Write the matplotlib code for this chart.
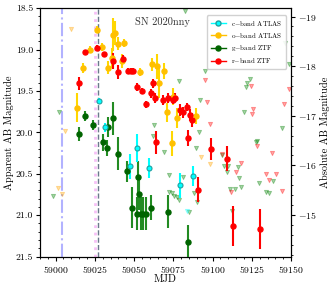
import matplotlib
matplotlib.use('Agg')
import matplotlib.pyplot as plt
from matplotlib.lines import Line2D
from matplotlib.ticker import AutoMinorLocator, MultipleLocator
import numpy as np

plt.rcParams['font.family'] = 'serif'
plt.rcParams['font.serif'] = ['cmr10']
plt.rcParams['mathtext.fontset'] = 'cm'
plt.rcParams['axes.formatter.use_mathtext'] = True

# detections: MJD, apparent mag, error
r_mjd = [59014.9, 59018.7, 59026.3, 59030.8, 59036.5, 59039.7, 59042.9, 59046.1, 59048.0, 59049.3,
         59051.8, 59055.0, 59057.6, 59061.0, 59062.0, 59063.3, 59063.9, 59068.4, 59071.6, 59074.8,
         59076.0, 59079.2, 59081.1, 59083.7, 59085.6, 59086.9, 59084.3, 59090.7, 59099.0, 59109.2,
         59113.0, 59130.2]
r_mag = [19.41, 19.03, 18.98, 19.06, 19.14, 19.27, 19.11, 19.26, 19.26, 19.26,
         19.45, 19.50, 19.66, 19.53, 19.41, 19.58, 20.12, 19.61, 19.58, 19.61,
         19.58, 19.73, 19.76, 19.69, 19.79, 19.85, 20.07, 20.69, 20.20, 20.32,
         21.13, 21.17]
r_err = [0.08, 0.03, 0.03, 0.03, 0.10, 0.08, 0.04, 0.04, 0.04, 0.04,
         0.05, 0.04, 0.04, 0.05, 0.05, 0.06, 0.14, 0.06, 0.06, 0.05,
         0.05, 0.07, 0.07, 0.05, 0.07, 0.08, 0.10, 0.15, 0.13, 0.15,
         0.24, 0.24]

o_mjd = [59013.6, 59017.4, 59021.9, 59026.3, 59029.5, 59033.3, 59035.9, 59036.5, 59037.8, 59039.7,
         59042.0, 59043.5, 59053.7, 59061.4, 59064.6, 59065.8, 59069.0, 59071.0, 59074.8, 59077.3,
         59074.1, 59089.4]
o_mag = [19.70, 19.22, 19.00, 18.76, 18.97, 19.22, 19.10, 18.82, 18.80, 18.93,
         19.14, 18.92, 19.27, 19.18, 19.20, 19.40, 19.26, 19.76, 19.57, 19.83,
         20.13, 19.80]
o_err = [0.17, 0.06, 0.04, 0.04, 0.05, 0.08, 0.12, 0.20, 0.15, 0.08,
         0.08, 0.05, 0.05, 0.08, 0.15, 0.18, 0.10, 0.12, 0.10, 0.12,
         0.15, 0.10]

c_mjd = [59027.6, 59031.4, 59047.4, 59051.8, 59059.5, 59079.2, 59087.5]
c_mag = [19.62, 19.94, 20.41, 20.19, 20.43, 20.64, 20.53]
c_err = [0.03, 0.05, 0.15, 0.17, 0.12, 0.15, 0.12]

g_mjd = [59014.9, 59018.7, 59023.8, 59030.2, 59032.7, 59033.3, 59036.5, 59039.7, 59045.5, 59048.6,
         59051.8, 59052.5, 59053.1, 59054.4, 59055.6, 59057.6, 59060.7, 59071.6, 59084.3]
g_mag = [20.02, 19.80, 19.91, 20.12, 20.19, 19.94, 19.83, 20.26, 20.47, 20.91,
         20.98, 20.54, 20.74, 20.98, 20.98, 20.98, 20.91, 20.96, 21.32]
g_err = [0.08, 0.06, 0.06, 0.10, 0.10, 0.12, 0.20, 0.20, 0.13, 0.25,
         0.20, 0.20, 0.20, 0.20, 0.20, 0.20, 0.15, 0.20, 0.20]

# upper limits
gl_mjd = [59002.1, 58998.3, 59082.4, 59095.2, 59078.6, 59123.8, 59121.9, 59121.3, 59092.0, 59120.0,
          59146.2, 59148.7, 59144.2, 59128.3, 59091.3, 59106.0, 59107.3, 59109.8, 59109.2, 59116.2,
          59116.8, 59111.1, 59114.3, 59118.1, 59129.6, 59138.5, 59134.0, 59136.0, 59112.4, 59127.7,
          59072.2, 59072.2, 59074.1, 59075.4, 59077.3, 59078.6, 59081.1, 59085.0, 59090.1, 59069.0,
          59089.4, 59088.2, 59062.0, 59062.7]
gl_mag = [19.75, 20.77, 18.53, 19.26, 19.38, 19.35, 19.40, 19.45, 19.61, 19.75,
          18.92, 19.17, 19.95, 20.10, 19.99, 20.27, 20.40, 20.40, 20.48, 20.42,
          20.55, 20.68, 20.68, 20.66, 20.61, 20.59, 20.72, 20.73, 20.95, 20.12,
          20.51, 20.72, 20.73, 20.77, 20.78, 20.82, 20.54, 20.96, 20.84, 20.24,
          20.19, 20.73, 20.04, 19.91]
rl_mjd = [59095.2, 59096.4, 59098.3, 59124.5, 59125.8, 59125.1, 59145.5, 59148.7, 59128.3, 59106.0,
          59114.9, 59118.1, 59111.7, 59134.0, 59136.0, 59140.4, 59144.2, 59137.9]
rl_mag = [19.37, 19.63, 19.90, 19.44, 19.72, 19.78, 19.66, 19.48, 20.16, 20.26,
          20.48, 20.37, 20.72, 20.50, 20.57, 20.50, 20.71, 20.25]
ol_mjd = [59009.8, 59005.9, 59001.5, 59004.0, 59092.6, 59098.3]
ol_mag = [18.75, 19.98, 20.67, 20.75, 20.30, 20.38]
cl_mjd = [59083.7]
cl_mag = [20.95]

vlines = [59003.8, 59025.3, 59027.2]

fig = plt.figure(figsize=(3.33, 2.89), dpi=100)
ax = fig.add_axes([0.120, 0.112, 0.754, 0.860])

ax.axvline(vlines[0], color='blue', alpha=0.3, ls='-.', lw=1.5, zorder=1)
ax.axvline(vlines[1], color='violet', alpha=0.5, ls=':', lw=2.0, zorder=1)
ax.axvline(vlines[2], color='#5a6a7e', alpha=0.9, ls='--', lw=1.0, zorder=1)

def lims(x, y, c):
    ax.scatter(x, y, marker='v', s=9, facecolors=c, edgecolors=c, alpha=0.35, lw=0.7, zorder=2)

lims(gl_mjd, gl_mag, 'green')
lims(rl_mjd, rl_mag, 'red')
lims(ol_mjd, ol_mag, 'orange')
lims(cl_mjd, cl_mag, 'cyan')

kw = dict(fmt='o', ms=3.6, elinewidth=1.5, capsize=0, zorder=3)
ax.errorbar(o_mjd, o_mag, yerr=o_err, color='#ffc000', ecolor='gold', **kw)
ax.errorbar(g_mjd, g_mag, yerr=g_err, color='darkgreen', ecolor='forestgreen', **kw)
ax.errorbar(r_mjd, r_mag, yerr=r_err, color='red', ecolor='red', **kw)
ax.errorbar(c_mjd, c_mag, yerr=c_err, color='cyan', ecolor='cyan', mec='#20a0a0', mew=0.8, **kw)

ax.set_xlim(58990, 59150)
ax.set_ylim(21.5, 18.5)
ax.xaxis.set_major_locator(MultipleLocator(25))
ax.yaxis.set_major_locator(MultipleLocator(0.5))
ax.xaxis.set_minor_locator(AutoMinorLocator())
ax.yaxis.set_minor_locator(AutoMinorLocator())
ax.tick_params(labelsize=7, pad=2)
ax.tick_params(which='major', length=3)
ax.tick_params(which='minor', length=1.5)
ax.set_xlabel('MJD', fontsize=7.5, labelpad=0)
ax.set_ylabel('Apparent AB Magnitude', fontsize=7.5, labelpad=1)
ax.yaxis.set_major_formatter(plt.FuncFormatter(lambda v, p: '%.1f' % v))

ax2 = ax.twinx()
ax2.set_ylim(-14.16, -19.17)
ax2.yaxis.set_major_locator(MultipleLocator(1))
ax2.yaxis.set_minor_locator(AutoMinorLocator())
ax2.tick_params(labelsize=7, pad=2)
ax2.tick_params(which='major', length=3)
ax2.tick_params(which='minor', length=1.5)
ax2.set_ylabel('Absolute AB Magnitude', fontsize=7.5, labelpad=2)

ax.text(0.486, 0.945, 'SN 2020nny', transform=ax.transAxes, fontsize=7.5,
        ha='center', va='center', color='#333333')

handles = [Line2D([], [], color='cyan', marker='o', ms=3.6, mec='#20a0a0', lw=1),
           Line2D([], [], color='#ffc000', marker='o', ms=3.6, lw=1),
           Line2D([], [], color='darkgreen', marker='o', ms=3.6, lw=1),
           Line2D([], [], color='red', marker='o', ms=3.6, lw=1)]
labels = [r'c$-$band ATLAS', r'o$-$band ATLAS', r'g$-$band ZTF', r'r$-$band ZTF']
ax2.legend(handles, labels, loc='upper right', fontsize=5, framealpha=0.9,
           borderpad=0.5, labelspacing=0.45, handlelength=2.2, bbox_to_anchor=(0.995, 0.985))

fig.savefig('out.png', dpi=100)
